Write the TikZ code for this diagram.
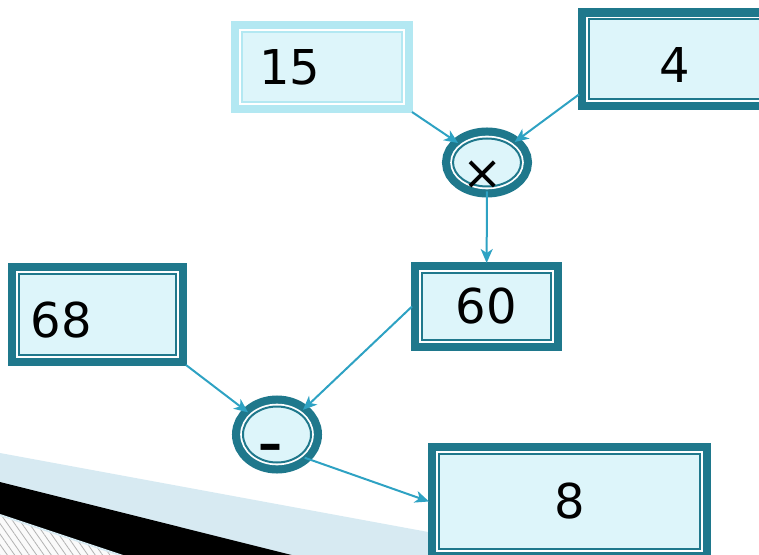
\documentclass[tikz,border=0pt]{standalone}
\usepackage{fontspec}
\setmainfont{DejaVu Sans}
\usepackage{tikz}
\usetikzlibrary{arrows.meta,patterns.meta,shapes.geometric}

\definecolor{ringdark}{RGB}{31,120,140}
\definecolor{ringlight}{RGB}{179,232,242}
\definecolor{boxfill}{RGB}{221,245,250}
\definecolor{linkblue}{RGB}{46,162,195}
\definecolor{bandblue}{RGB}{215,234,242}

\begin{document}
\begin{tikzpicture}[x=0.5pt, y=-0.5pt,
    numbox/.style={draw=#1, fill=boxfill, line width=1pt, inner sep=0pt, outer sep=5pt,
        preaction={draw=#1, line width=11pt}, preaction={draw=white, line width=2.8pt},
        font=\fontsize{24}{28}\selectfont},
    numbox/.default=ringdark,
    opnode/.style={ellipse, numbox, outer sep=2.5pt},
    opsign/.style={font=\fontsize{24}{28}\selectfont},
    arrow/.style={-{Stealth[length=7pt, width=6pt, inset=2pt]}, draw=linkblue, line width=1pt}
]
    \useasboundingbox (0,0) rectangle (759,555);
    \clip (0,0) rectangle (759,555);

    % slide background stripes
    \fill[bandblue] (0,453) -- (759,593) -- (759,600) -- (0,600) -- cycle;
    \fill[black] (0,482) -- (759,672) -- (0,672) -- cycle;
    \fill[gray!4] (0,515) -- (759,768) -- (0,768) -- cycle;
    \fill[pattern={Lines[angle=-55, distance=3pt, line width=0.4pt]}, pattern color=gray!60] (0,515) -- (759,768) -- (0,768) -- cycle;
    \draw[bandblue, line width=1pt] (0,515) -- (759,768);

    % number boxes
    \node[numbox=ringlight, minimum width=80pt, minimum height=35pt, text width=63pt, align=left] (n15) at (322,67) {15};
    \node[numbox, minimum width=86pt, minimum height=40pt, text height=23.5pt] (n4) at (675,59.5) {4};
    \node[numbox, minimum width=64.5pt, minimum height=33.5pt] (n60) at (486.5,306.5) {60};
    \node[numbox, minimum width=78.5pt, minimum height=40.5pt, text width=66.5pt, align=left, text height=23.5pt] (n68) at (97.5,314.5) {68};
    \node[numbox, minimum width=130.5pt, minimum height=47.5pt] (n8) at (569.5,501.5) {8};

    % operators
    \node[opnode, minimum width=34pt, minimum height=24pt,
        label={[opsign, xshift=-2.25pt, yshift=-6.5pt]center:×}] (mul) at (487,162.5) {};
    \node[opnode, minimum width=34pt, minimum height=28pt,
        label={[opsign, font=\fontsize{24}{28}\selectfont\bfseries, xshift=-3.5pt, yshift=-9pt]center:–}] (minus) at (277,434.5) {};

    % Arrows
    \draw[arrow] (n15.south east) -- (mul);
    \draw[arrow] (n4.200) -- (mul);
    \draw[arrow] (mul) -- (n60);
    \draw[arrow] (n68.south east) -- (minus);
    \draw[arrow] (n60.west) -- (minus);
    \draw[arrow] (minus.-40) -- (n8.west);
\end{tikzpicture}
\end{document}
